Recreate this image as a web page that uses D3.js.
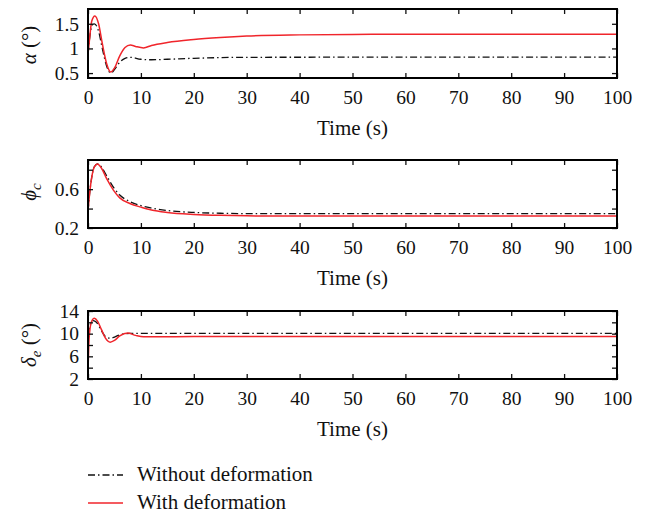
<!DOCTYPE html>
<html><head><meta charset="utf-8">
<script src="https://cdn.jsdelivr.net/npm/d3@7"></script>
<style>body{margin:0;background:#fff}svg{display:block}text{font-family:"Liberation Serif","DejaVu Serif",serif;fill:#111}</style>
</head><body>
<script>
const xTicks = [0,10,20,30,40,50,60,70,80,90,100];
const seriesNames = ["Without deformation","With deformation"];

const alphaT_no = [0,0.3,0.8,1.2,2,2.7,3.5,4.3,5,6,7,8,10,12,15,20,30,100];
const alphaV_no = [0.88,1.2,1.48,1.5,1.35,1.0,0.65,0.5,0.57,0.72,0.8,0.82,0.78,0.77,0.78,0.8,0.82,0.825];
const alphaT_def = [0,0.3,0.7,1.3,2,2.7,3.5,4.3,5,6,7,8,9,10.5,12,15,20,25,30,40,50,60,100];
const alphaV_def = [0.88,1.2,1.55,1.66,1.5,1.1,0.7,0.52,0.6,0.85,1.02,1.07,1.04,1.01,1.06,1.12,1.18,1.22,1.25,1.275,1.285,1.29,1.29];

const phiT_no = [0,0.3,0.7,1.2,1.8,2.5,3.5,4.8,6,8,10,12,15,20,25,30,40,100];
const phiV_no = [0.37,0.55,0.72,0.83,0.86,0.83,0.74,0.62,0.54,0.47,0.43,0.405,0.38,0.36,0.352,0.348,0.347,0.347];
const phiT_def = [0,0.3,0.7,1.2,1.8,2.5,3.5,4.8,6,8,10,12,15,20,25,30,40,100];
const phiV_def = [0.37,0.55,0.72,0.83,0.86,0.82,0.71,0.59,0.51,0.45,0.415,0.385,0.36,0.34,0.33,0.325,0.323,0.323];

const deltaT_no = [0,0.4,1,1.6,2.5,3.3,4.2,5,6,7,8,100];
const deltaV_no = [9.8,11.5,12.3,12.0,10.6,9.5,9.2,9.4,9.8,10.0,10.05,10.05];
const deltaT_def = [0,0.15,0.4,0.8,1.2,1.8,2.5,3.3,4.2,5,6,7.5,9,10.5,13,20,100];
const deltaV_def = [3.5,8,11,12.4,12.7,12.2,10.8,9.2,8.5,8.8,9.6,10.1,9.7,9.45,9.45,9.5,9.5];

const alphaYTicks = [0.5,1,1.5];
const phiYTicks = [0.2,0.4,0.6,0.8];
const phiYLabels = [0.2,0.6];
const deltaYTicks = [2,4,6,8,10,12,14];
const deltaYLabels = [2,6,10,14];

const W=647,H=514;
const svg=d3.select("body").append("svg").attr("width",W).attr("height",H);
const x0=88,x1=617;
const RED="#f0252b";

const panels=[
 {top:9,bot:78,dom:[0.4,1.8],ticks:alphaYTicks,labels:alphaYTicks,fmt:d=>String(d),
  no:[alphaT_no,alphaV_no],def:[alphaT_def,alphaV_def],ylab:"alpha",labY:45},
 {top:160,bot:228,dom:[0.2,0.9],ticks:phiYTicks,labels:phiYLabels,fmt:d=>d.toFixed(1),
  no:[phiT_no,phiV_no],def:[phiT_def,phiV_def],ylab:"phi",labY:192},
 {top:311,bot:379,dom:[2,14],ticks:deltaYTicks,labels:deltaYLabels,fmt:d=>String(d),
  no:[deltaT_no,deltaV_no],def:[deltaT_def,deltaV_def],ylab:"delta",labY:345}
];

panels.forEach(p=>{
  const x=d3.scaleLinear().domain([0,100]).range([x0,x1]);
  const y=d3.scaleLinear().domain(p.dom).range([p.bot,p.top]);
  const g=svg.append("g");
  const clipId="c"+p.top;
  g.append("clipPath").attr("id",clipId).append("rect").attr("x",x0).attr("y",p.top).attr("width",x1-x0).attr("height",p.bot-p.top);
  const line=d3.line().x(d=>x(d[0])).y(d=>y(d[1])).curve(d3.curveMonotoneX);
  const mk=(arr)=>arr[0].map((t,i)=>[t,arr[1][i]]);
  g.append("path").datum(mk(p.no)).attr("d",line).attr("fill","none").attr("stroke","#111")
    .attr("stroke-width",1.3).attr("stroke-dasharray","7,3,1.5,3").attr("clip-path",`url(#${clipId})`);
  g.append("path").datum(mk(p.def)).attr("d",line).attr("fill","none").attr("stroke",RED)
    .attr("stroke-width",1.5).attr("clip-path",`url(#${clipId})`);
  const ax=g.append("g").attr("transform",`translate(0,${p.bot})`)
    .call(d3.axisBottom(x).tickValues(xTicks).tickSize(-5).tickPadding(12).tickFormat(d3.format("d")));
  const axT=g.append("g").attr("transform",`translate(0,${p.top})`)
    .call(d3.axisTop(x).tickValues(xTicks).tickSize(-5).tickFormat(""));
  const ay=g.append("g").attr("transform",`translate(${x0},0)`)
    .call(d3.axisLeft(y).tickValues(p.ticks).tickSize(-5).tickPadding(9).tickFormat(d=>p.labels.includes(d)?p.fmt(d):""));
  const ayR=g.append("g").attr("transform",`translate(${x1},0)`)
    .call(d3.axisRight(y).tickValues(p.ticks).tickSize(-5).tickFormat(""));
  [ax,axT,ay,ayR].forEach(a=>{
    a.select(".domain").remove();
    a.selectAll("line").attr("stroke","#111").attr("stroke-width",1.3);
    a.selectAll("text").style("font-family",'"Liberation Serif",serif').style("font-size","19.5px").attr("fill","#111");
  });
  g.append("rect").attr("x",x0).attr("y",p.top).attr("width",x1-x0).attr("height",p.bot-p.top)
    .attr("fill","none").attr("stroke","#000").attr("stroke-width",2);
  g.append("text").attr("x",(x0+x1)/2).attr("y",p.bot+57).attr("text-anchor","middle")
    .style("font-size","21px").text("Time (s)");
  const yl=g.append("text").attr("transform",`translate(36,${p.labY}) rotate(-90)`).attr("text-anchor","middle")
    .style("font-size","21px");
  if(p.ylab==="alpha"){
    yl.append("tspan").style("font-style","italic").text("α");
    yl.append("tspan").text(" (°)");
  } else if(p.ylab==="phi"){
    yl.append("tspan").style("font-style","italic").text("ϕ");
    yl.append("tspan").style("font-style","italic").style("font-size","15px").attr("dy",5).text("c");
  } else {
    yl.append("tspan").style("font-style","italic").text("δ");
    yl.append("tspan").style("font-style","italic").style("font-size","15px").attr("dy",5).text("e");
    yl.append("tspan").attr("dy",-5).text(" (°)");
  }
});

const leg=svg.append("g");
[[475,"#111","7,3,1.5,3",1.3],[503,RED,null,1.5]].forEach((r,i)=>{
  leg.append("line").attr("x1",88).attr("x2",123).attr("y1",r[0]).attr("y2",r[0])
    .attr("stroke",r[1]).attr("stroke-width",r[3]).attr("stroke-dasharray",r[2]);
  leg.append("text").attr("x",137).attr("y",r[0]+6).style("font-size","21px").text(seriesNames[i]);
});
</script>
</body></html>
